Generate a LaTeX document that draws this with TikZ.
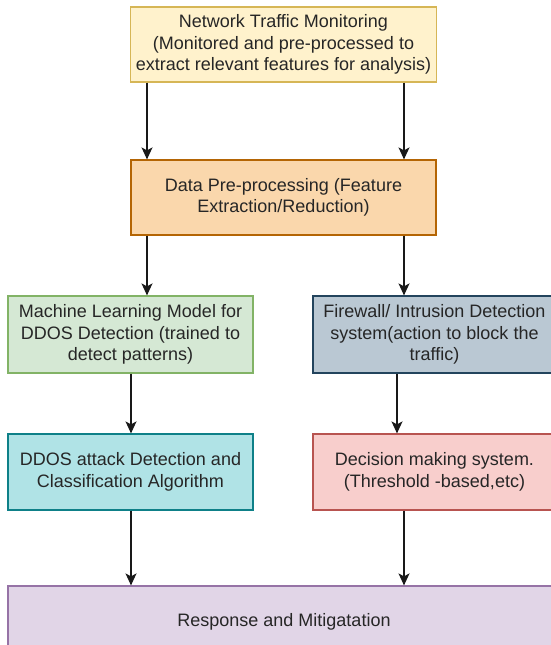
\documentclass[tikz,border=0pt]{standalone}
\usepackage{fontspec}
\setmainfont{Liberation Sans}
\usetikzlibrary{arrows.meta}

\definecolor{monfill}{HTML}{FFF2CC}\definecolor{mondraw}{HTML}{D6B656}
\definecolor{prefill}{HTML}{FAD7AC}\definecolor{predraw}{HTML}{B46504}
\definecolor{mlfill}{HTML}{D5E8D4}\definecolor{mldraw}{HTML}{82B366}
\definecolor{fwfill}{HTML}{BAC8D3}\definecolor{fwdraw}{HTML}{23445D}
\definecolor{detfill}{HTML}{B0E3E6}\definecolor{detdraw}{HTML}{0E8088}
\definecolor{decfill}{HTML}{F8CECC}\definecolor{decdraw}{HTML}{B85450}
\definecolor{resfill}{HTML}{E1D5E7}\definecolor{resdraw}{HTML}{9673A6}

\begin{document}
\begin{tikzpicture}[x=1pt,y=-1pt,
    box/.style={draw,line width=1.2pt,align=center,inner sep=0pt,
      font=\fontsize{18}{21.6}\selectfont,text=black!85},
    arr/.style={line width=1.3pt,black!90,-{Stealth[length=12pt,width=11pt,inset=3pt]}}]
  \useasboundingbox (0,0) rectangle (551,645);

  % boxes
  \node[box,fill=monfill,draw=mondraw,minimum width=306pt,minimum height=75pt] (mon) at (283.5,44.5)
    {Network Traffic Monitoring\\(Monitored and pre-processed to\\extract relevant features for analysis)};
  \node[box,fill=prefill,draw=predraw,minimum width=305pt,minimum height=75pt] (pre) at (283.5,197.5)
    {Data Pre-processing (Feature\\Extraction/Reduction)};

  \node[box,fill=mlfill,draw=mldraw,minimum width=245pt,minimum height=77pt] (ml) at (130.5,334.5)
    {Machine Learning Model for\\DDOS Detection (trained to\\detect patterns)};
  \node[box,fill=fwfill,draw=fwdraw,minimum width=243pt,minimum height=77pt] (fw) at (434.5,334.5)
    {Firewall/ Intrusion Detection\\system(action to block the\\traffic)};

  \node[box,fill=detfill,draw=detdraw,minimum width=245pt,minimum height=76pt] (det) at (130.5,472)
    {DDOS attack Detection and\\Classification Algorithm};
  \node[box,fill=decfill,draw=decdraw,minimum width=243pt,minimum height=76pt] (dec) at (434.5,472)
    {Decision making system.\\(Threshold -based,etc)};

  \node[box,fill=resfill,draw=resdraw,minimum width=552pt,minimum height=72pt] (res) at (284,622)
    {Response and Mitigatation};

  % arrow columns
  \coordinate (la) at (147,0);
  \coordinate (lb) at (131,0);
  \coordinate (ra) at (404,0);
  \coordinate (rb) at (397,0);

  \draw[arr] (mon.south -| la) -- (pre.north -| la);
  \draw[arr] (mon.south -| ra) -- (pre.north -| ra);
  \draw[arr] (pre.south -| la) -- (ml.north -| la);
  \draw[arr] (pre.south -| ra) -- (fw.north -| ra);
  \draw[arr] (ml.south -| lb) -- (det.north -| lb);
  \draw[arr] (fw.south -| rb) -- (dec.north -| rb);
  \draw[arr] (det.south -| lb) -- (res.north -| lb);
  \draw[arr] (dec.south -| ra) -- (res.north -| ra);
\end{tikzpicture}
\end{document}
